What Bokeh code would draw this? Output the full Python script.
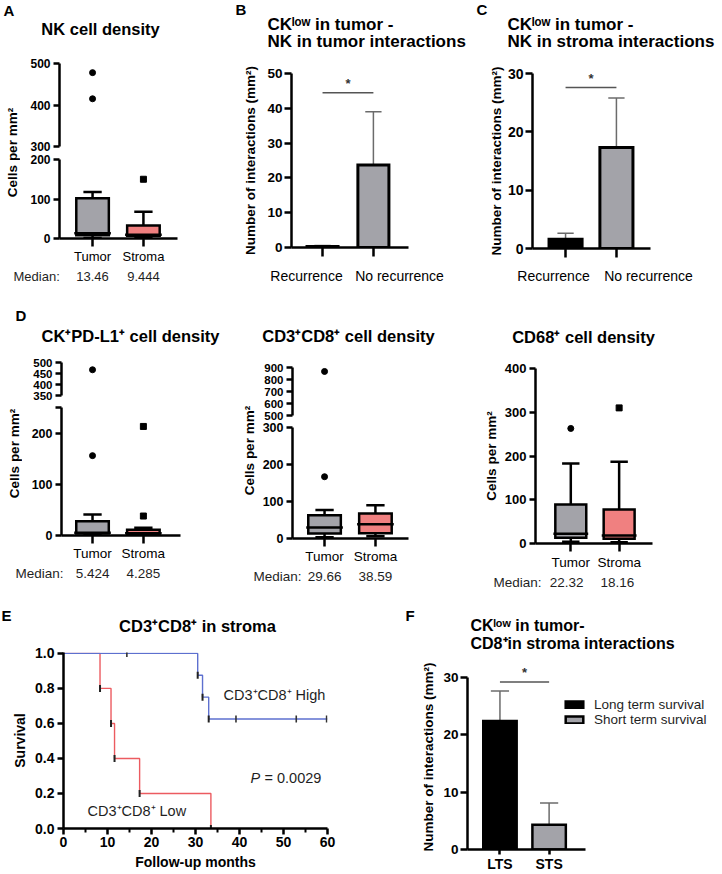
import math
from bokeh.plotting import figure
from bokeh.models import (Range1d, Label, FixedTicker, LinearAxis, Legend, LegendItem,
                          NumeralTickFormatter)
from bokeh.layouts import row, column
from bokeh.embed import file_html
from bokeh.resources import INLINE

FONT = "Liberation Sans"
GRAY = "#a3a3a9"
PINK = "#f08080"
ERRC = "#6b6b6b"
RED = "#ec5b60"
BLUE = "#5d70cf"
TXT = "#1f1f1f"

# ---------------- data ----------------
box_groups = ["Tumor", "Stroma"]

# A: NK cell density (box: low whisker, Q1, median, Q3, high whisker)
nk_lo = [1, 2]
nk_q1 = [8, 7]
nk_med = [13.46, 9.444]
nk_q3 = [102, 33]
nk_hi = [118, 68]
nk_out_tumor = [478, 415]
nk_out_stroma = [150]

# B: CKlow in tumor - NK in tumor interactions
rec_groups = ["Recurrence", "No recurrence"]
b_mean = [0.3, 23.7]
b_sd = [0.3, 15.3]
b_sig = 44.5

# C: CKlow in tumor - NK in stroma interactions
c_mean = [1.6, 17.3]
c_sd = [1.0, 8.5]
c_sig = 27.6

# D1: CK+PD-L1+ cell density
pd_lo = [1, 1]
pd_q1 = [4, 3]
pd_med = [5.424, 4.285]
pd_q3 = [28, 11]
pd_hi = [41, 15]
pd_out_tumor = [156, 467]
pd_out_stroma = [38, 213]

# D2: CD3+CD8+ cell density
cd8_lo = [3.5, 6]
cd8_q1 = [13.5, 14]
cd8_med = [29.66, 38.59]
cd8_q3 = [63, 67.5]
cd8_hi = [77, 90]
cd8_out_tumor = [167, 867]
cd8_out_stroma = []

# D3: CD68+ cell density
cd68_lo = [4, 3]
cd68_q1 = [13, 11]
cd68_med = [22.32, 18.16]
cd68_q3 = [89, 78]
cd68_hi = [183, 187]
cd68_out_tumor = [263]
cd68_out_stroma = [310]

# E: Kaplan-Meier, CD3+CD8+ in stroma
low_t = [0, 8.3, 10.8, 11.6, 17.3, 33.5]
low_s = [1.0, 0.8, 0.6, 0.4, 0.2, 0.0]
high_t = [0, 30.5, 31.6, 33.0, 60.0]
high_s = [1.0, 0.875, 0.75, 0.625, 0.625]
high_cens_t = [14.4, 39.2, 52.9, 59.8]
high_cens_s = [1.0, 0.625, 0.625, 0.625]
e_xticks = [0, 10, 20, 30, 40, 50, 60]
e_xminor = [5, 15, 25, 35, 45, 55]
e_yticks = [0.0, 0.2, 0.4, 0.6, 0.8, 1.0]

# F: CKlow in tumor - CD8+ in stroma interactions
surv_groups = ["LTS", "STS"]
surv_legend = ["Long term survival", "Short term survival"]
f_mean = [22.4, 4.3]
f_sd = [5.2, 3.8]
f_sig = 29.2

pos = [i + 1 for i in range(len(box_groups))]
ROT = math.pi / 2
YLAB = "Number of interactions (mm²)"


# ---------------- helpers ----------------
def mk(w, h, bl, br, bt, bb, xr, yr):
    p = figure(width=w, height=h, x_range=xr, y_range=yr, output_backend="svg",
               toolbar_location=None, tools="", x_axis_location=None, y_axis_location=None,
               min_border_left=bl, min_border_right=br, min_border_top=bt,
               min_border_bottom=bb)
    p.outline_line_color = None
    p.background_fill_color = "white"
    p.border_fill_color = "white"
    p.grid.visible = False
    try:
        p.frame_align = False
    except Exception:
        pass
    return p, (bl, bt, h - bt - bb)


def strip(w, h, xr=None):
    return mk(w, h, 0, 0, 0, 0, xr if xr is not None else Range1d(0, w), Range1d(0, h))


def ext(xr, fw, left_px, right_px):
    ppu = fw / (xr.end - xr.start)
    return Range1d(xr.start - left_px / ppu, xr.end + right_px / ppu)


def cats(names):
    d = {}
    for x, n in zip(pos, names):
        d[x] = n
        d[str(x)] = n
    return d


def add_axis(p, side, ticks, size, tick_out=6, standoff=3, overrides=None,
             style="bold", minor=None, fmt=None, lw=2.5, bounds=None,
             label=None, label_size=13.5, label_standoff=5):
    ax = LinearAxis(ticker=FixedTicker(ticks=ticks, minor_ticks=minor or []))
    ax.axis_line_width = lw
    ax.axis_line_color = "black"
    ax.major_tick_line_width = lw
    ax.major_tick_line_color = "black"
    ax.major_tick_out = tick_out
    ax.major_tick_in = 0
    if minor:
        ax.minor_tick_line_width = 2
        ax.minor_tick_line_color = "black"
        ax.minor_tick_out = 4
        ax.minor_tick_in = 0
    else:
        ax.minor_tick_line_color = None
    ax.major_label_text_font = FONT
    ax.major_label_text_font_size = f"{size}px"
    ax.major_label_text_font_style = style
    ax.major_label_text_color = "black"
    ax.major_label_standoff = standoff
    if overrides:
        ax.major_label_overrides = overrides
    if fmt is not None:
        ax.formatter = fmt
    if bounds is not None:
        ax.bounds = bounds
    if label:
        ax.axis_label = label
        ax.axis_label_text_font = FONT
        ax.axis_label_text_font_size = f"{label_size}px"
        ax.axis_label_text_font_style = "bold"
        ax.axis_label_text_color = "black"
        ax.axis_label_standoff = label_standoff
    p.add_layout(ax, side)
    return ax


def put(p, g, s, cx, cy, size, style="normal", align="center", angle=0.0,
        color="black", xdata=None):
    bl, bt, fh = g
    kw = dict(text=s, text_font=FONT, text_font_size=f"{size}px", text_font_style=style,
              text_color=color, text_align=align, text_baseline="middle", angle=angle)
    ys = bt + fh - cy
    if xdata is None:
        p.add_layout(Label(x=cx - bl, y=ys, x_units="screen", y_units="screen", **kw))
    else:
        p.add_layout(Label(x=xdata, y=ys, x_units="data", y_units="screen", **kw))


def inr(vals, yr):
    return [v for v in vals if yr.start <= v <= yr.end]


def draw_box(p, lo, q1, med, q3, hi, out_t, out_s, fills, boxes=True,
             boxw=0.64, capw=0.36, medw=0.72):
    lw = 2.5
    if boxes:
        p.segment(x0=pos, y0=q3, x1=pos, y1=hi, line_color="black", line_width=lw)
        p.segment(x0=pos, y0=q1, x1=pos, y1=lo, line_color="black", line_width=lw)
        p.segment(x0=[x - capw / 2 for x in pos], y0=hi, x1=[x + capw / 2 for x in pos],
                  y1=hi, line_color="black", line_width=lw)
        p.segment(x0=[x - capw / 2 for x in pos], y0=lo, x1=[x + capw / 2 for x in pos],
                  y1=lo, line_color="black", line_width=lw)
        p.vbar(x=pos, bottom=q1, top=q3, width=boxw, fill_color=fills, line_color="black",
               line_width=lw, line_join="miter")
        p.segment(x0=[x - medw / 2 for x in pos], y0=med, x1=[x + medw / 2 for x in pos],
                  y1=med, line_color="black", line_width=lw)
    ot = inr(out_t, p.y_range)
    os_ = inr(out_s, p.y_range)
    p.scatter(x=[pos[0]] * len(ot), y=ot, marker="circle", size=6, color="black")
    p.scatter(x=[pos[1]] * len(os_), y=os_, marker="square", size=6, color="black")


def err_bars(p, mean, sd, capw):
    tops = [m + s for m, s in zip(mean, sd)]
    p.segment(x0=pos, y0=mean, x1=pos, y1=tops, line_color=ERRC, line_width=1.5)
    p.segment(x0=[x - capw / 2 for x in pos], y0=tops, x1=[x + capw / 2 for x in pos],
              y1=tops, line_color=ERRC, line_width=1.5)


def sig(p, yv):
    p.segment(x0=[pos[0]], y0=[yv], x1=[pos[1]], y1=[yv], line_color="#555555",
              line_width=1.5)
    p.add_layout(Label(x=(pos[0] + pos[1]) / 2, y=yv, x_units="data", y_units="data",
                       y_offset=2, text="*", text_align="center", text_baseline="bottom",
                       text_font=FONT, text_font_size="13px", text_font_style="bold",
                       text_color="#333333"))


def medians(pm, gm, vals, cx, cy, size):
    put(pm, gm, "Median:", cx, cy, size, align="left", color=TXT)
    for x, v in zip(pos, vals):
        put(pm, gm, f"{v:g}", None, cy, size, color=TXT, xdata=x)


def box_xaxis(p, size, standoff=2):
    add_axis(p, "below", pos, size, tick_out=8, standoff=standoff,
             overrides=cats(box_groups), style="normal")


# ================= Row 1 (height 296) =================
# ---------------- Panel A (w 235) ----------------
A_t, gAt_ = strip(235, 48)
put(A_t, gAt_, "A", 3, 10, 15, "bold", align="left")
put(A_t, gAt_, "NK cell density", 100, 28, 16.5, "bold")
A_l, gAl = strip(20, 218)
put(A_l, gAl, "Cells per mm²", 12, 104, 13.5, "bold", angle=ROT)
xrA = Range1d(0.35, 2.67)
A_top, _ = mk(215, 105, 39, 58, 15, 7, xrA, Range1d(300, 500))
A_bot, _ = mk(215, 113, 39, 58, 6, 27, xrA, Range1d(0, 200))
add_axis(A_top, "left", [300, 400, 500], 12)
add_axis(A_bot, "left", [0, 100, 200], 12)
box_xaxis(A_bot, 13)
draw_box(A_top, nk_lo, nk_q1, nk_med, nk_q3, nk_hi, nk_out_tumor, nk_out_stroma,
         [GRAY, PINK], boxes=False)
draw_box(A_bot, nk_lo, nk_q1, nk_med, nk_q3, nk_hi, nk_out_tumor, nk_out_stroma,
         [GRAY, PINK])
A_m, gAm = strip(235, 30, ext(xrA, 118, 59, 58))
medians(A_m, gAm, nk_med, 13, 10, 13)
A = column(A_t, row(A_l, column(A_top, A_bot)), A_m)

# ---------------- Panel B (w 235) ----------------
B_t, gBt = strip(235, 50)
put(B_t, gBt, "B", 0, 9, 15, "bold", align="left")
put(B_t, gBt, "CKˡᵒʷ in tumor -", 32, 24, 17, "bold", align="left")
put(B_t, gBt, "NK in tumor interactions", 32, 41, 17, "bold", align="left")
B_p, gBp = mk(235, 216, 56, 62, 23, 19, Range1d(0.39, 2.69), Range1d(0, 50))
add_axis(B_p, "left", [0, 10, 20, 30, 40, 50], 13.5, tick_out=7, standoff=2,
         label=YLAB, label_size=13.5, label_standoff=6)
add_axis(B_p, "below", pos, 1, tick_out=9, standoff=0, overrides=cats(["", ""]))
err_bars(B_p, b_mean, b_sd, 0.32)
B_p.vbar(x=pos, top=b_mean, width=0.61, fill_color=[GRAY, GRAY], line_color="black",
         line_width=3, line_join="miter")
sig(B_p, b_sig)
B_b, gBb = strip(235, 30)
put(B_b, gBb, rec_groups[0], 71, 9, 14)
put(B_b, gBb, rec_groups[1], 164, 9, 14)
B = column(row(B_t), row(B_p), row(B_b))

# ---------------- Panel C (w 252) ----------------
C_t, gCt = strip(252, 50)
put(C_t, gCt, "C", 6, 9, 15, "bold", align="left")
put(C_t, gCt, "CKˡᵒʷ in tumor -", 37, 24, 17, "bold", align="left")
put(C_t, gCt, "NK in stroma interactions", 37, 41, 17, "bold", align="left")
C_p, gCp = mk(252, 216, 62, 72, 23, 18, Range1d(0.35, 2.67), Range1d(0, 30))
add_axis(C_p, "left", [0, 10, 20, 30], 14, tick_out=7, standoff=2,
         label=YLAB, label_size=13.5, label_standoff=1)
add_axis(C_p, "below", pos, 1, tick_out=9, standoff=0, overrides=cats(["", ""]))
err_bars(C_p, c_mean, c_sd, 0.32)
C_p.vbar(x=pos, top=c_mean, width=0.65, fill_color=["black", GRAY], line_color="black",
         line_width=3, line_join="miter")
sig(C_p, c_sig)
C_b, gCb = strip(252, 30)
put(C_b, gCb, rec_groups[0], 83, 9, 14)
put(C_b, gCb, rec_groups[1], 178, 9, 14)
C = column(row(C_t), row(C_p), row(C_b))

# ================= Row 2 (height 302) =================
# ---------------- Panel D1 (w 240) ----------------
D1_t, gD1t = strip(240, 50)
put(D1_t, gD1t, "D", 15, 19, 15, "bold", align="left")
put(D1_t, gD1t, "CK⁺PD-L1⁺ cell density", 130, 39, 16.5, "bold")
D1_l, gD1l = strip(22, 217)
put(D1_l, gD1l, "Cells per mm²", 14, 107, 13.5, "bold", angle=ROT)
xrD1 = Range1d(0.39, 2.73)
D1_top, _ = mk(218, 55, 39, 60, 16, 6, xrD1, Range1d(350, 500))
D1_bot, _ = mk(218, 162, 39, 60, 6, 26, xrD1, Range1d(0, 250))
add_axis(D1_top, "left", [350, 400, 450, 500], 11.5)
add_axis(D1_bot, "left", [0, 100, 200, 250], 12.5, overrides={250: "", "250": ""})
box_xaxis(D1_bot, 13.5)
draw_box(D1_top, pd_lo, pd_q1, pd_med, pd_q3, pd_hi, pd_out_tumor, pd_out_stroma,
         [GRAY, PINK], boxes=False)
draw_box(D1_bot, pd_lo, pd_q1, pd_med, pd_q3, pd_hi, pd_out_tumor, pd_out_stroma,
         [GRAY, PINK])
D1_m, gD1m = strip(240, 35, ext(xrD1, 119, 61, 60))
medians(D1_m, gD1m, pd_med, 15, 10, 13.5)
D1 = column(row(D1_t), row(D1_l, column(D1_top, D1_bot)), row(D1_m))

# ---------------- Panel D2 (w 240) ----------------
D2_t, gD2t = strip(240, 50)
put(D2_t, gD2t, "CD3⁺CD8⁺ cell density", 108, 39, 16.5, "bold")
D2_l, gD2l = strip(18, 220)
put(D2_l, gD2l, "Cells per mm²", 9, 104, 13.5, "bold", angle=ROT)
xrD2 = Range1d(0.37, 2.65)
D2_top, _ = mk(222, 75, 34, 72, 21, 6, xrD2, Range1d(500, 900))
D2_bot, _ = mk(222, 145, 34, 72, 6, 27, xrD2, Range1d(0, 300))
add_axis(D2_top, "left", [500, 600, 700, 800, 900], 11.5)
add_axis(D2_bot, "left", [0, 100, 200, 300], 12.5)
box_xaxis(D2_bot, 13.5)
draw_box(D2_top, cd8_lo, cd8_q1, cd8_med, cd8_q3, cd8_hi, cd8_out_tumor, cd8_out_stroma,
         [GRAY, PINK], boxes=False)
draw_box(D2_bot, cd8_lo, cd8_q1, cd8_med, cd8_q3, cd8_hi, cd8_out_tumor, cd8_out_stroma,
         [GRAY, PINK])
D2_m, gD2m = strip(240, 32, ext(xrD2, 116, 52, 72))
medians(D2_m, gD2m, cd8_med, 13, 10, 13.5)
D2 = column(row(D2_t), row(D2_l, column(D2_top, D2_bot)), row(D2_m))

# ---------------- Panel D3 (w 242) ----------------
D3_t, gD3t = strip(242, 50)
put(D3_t, gD3t, "CD68⁺ cell density", 103, 40, 16.5, "bold")
xrD3 = Range1d(0.27, 2.69)
D3_p, _ = mk(242, 226, 49, 70, 22, 29, xrD3, Range1d(0, 400))
add_axis(D3_p, "left", [0, 100, 200, 300, 400], 13, label="Cells per mm²",
         label_size=13.5, label_standoff=3)
box_xaxis(D3_p, 13.5, standoff=3)
draw_box(D3_p, cd68_lo, cd68_q1, cd68_med, cd68_q3, cd68_hi, cd68_out_tumor,
         cd68_out_stroma, [GRAY, PINK])
D3_m, gD3m = strip(242, 26, ext(xrD3, 123, 49, 70))
medians(D3_m, gD3m, cd68_med, 13, 10, 13.5)
D3 = column(row(D3_t), row(D3_p), row(D3_m))

# ================= Row 3 (height 276) =================
# ---------------- Panel E (w 405) ----------------
E_t, gEt = strip(405, 40)
put(E_t, gEt, "E", 1, 17, 15, "bold", align="left")
put(E_t, gEt, "CD3⁺CD8⁺ in stroma", 197, 27, 16.5, "bold")
E_p, gEp = mk(405, 236, 63, 78, 14, 46, Range1d(0, 60), Range1d(0, 1.005))
add_axis(E_p, "left", e_yticks, 14, tick_out=6, standoff=3,
         fmt=NumeralTickFormatter(format="0.0"), label="Survival", label_size=14,
         label_standoff=4)
add_axis(E_p, "below", e_xticks, 14, tick_out=6, standoff=2, minor=e_xminor,
         label="Follow-up months", label_size=14, label_standoff=4)
E_p.step(x=low_t, y=low_s, mode="after", line_color=RED, line_width=1.4)
E_p.step(x=high_t, y=high_s, mode="after", line_color=BLUE, line_width=1.4)
low_ev_t = [t for i, t in enumerate(low_t) if i > 0 and low_s[i] < low_s[i - 1]]
low_ev_s = [s for i, s in enumerate(low_s) if i > 0 and s < low_s[i - 1]]
high_ev_t = [t for i, t in enumerate(high_t) if i > 0 and high_s[i] < high_s[i - 1]]
high_ev_s = [s for i, s in enumerate(high_s) if i > 0 and s < high_s[i - 1]]
E_p.scatter(x=low_ev_t + high_ev_t, y=low_ev_s + high_ev_s, marker="dash", angle=ROT,
            size=7, line_color="#222222", line_width=2)
E_p.scatter(x=high_cens_t, y=high_cens_s, marker="dash", angle=ROT, size=7,
            line_color="#333333", line_width=1.6)
put(E_p, gEp, "CD3⁺CD8⁺ High", 223, 56, 14.5, align="left", color=TXT)
put(E_p, gEp, "CD3⁺CD8⁺ Low", 87, 172, 14.5, align="left", color=TXT)
put(E_p, gEp, "P", 250, 139, 14.5, "italic", align="left", color=TXT)
put(E_p, gEp, "= 0.0029", 264, 139, 14.5, align="left", color=TXT)
E = column(row(E_t), row(E_p))

# ---------------- Panel F (w 317) ----------------
F_t, gFt = strip(317, 60)
put(F_t, gFt, "F", 0, 17, 15, "bold", align="left")
put(F_t, gFt, "CKˡᵒʷ in tumor-", 65, 27, 16, "bold", align="left")
put(F_t, gFt, "CD8⁺in stroma interactions", 65, 45, 16, "bold", align="left")
fx0, fx1 = 0.34, 2.74
fy1 = 30
F_fw, F_top30, F_bot = 251, 19, 194
F_xr = Range1d(fx0, fx0 + F_fw * (fx1 - fx0) / 118)
F_yr = Range1d(0, fy1 + (F_top30 - 6) * fy1 / (F_bot - F_top30))
F_p, gFp = mk(317, 216, 62, 4, 6, 216 - F_bot, F_xr, F_yr)
add_axis(F_p, "left", [0, 10, 20, 30], 13.5, tick_out=7, standoff=2, bounds=(0, fy1),
         label=YLAB, label_size=13.5, label_standoff=4)
add_axis(F_p, "below", pos, 14, tick_out=5, standoff=1, overrides=cats(surv_groups),
         bounds=(fx0, fx1))
err_bars(F_p, f_mean, f_sd, 0.37)
fb = F_p.vbar(x=pos, top=f_mean, width=0.68, fill_color=["black", GRAY], line_color="black",
              line_width=2.5, line_join="miter")
sig(F_p, f_sig)
leg = Legend(items=[LegendItem(label=surv_legend[i], renderers=[fb], index=i)
                    for i in range(len(surv_legend))])
leg.location = (96, F_bot - 72)
leg.border_line_color = None
leg.background_fill_alpha = 0
leg.padding = 0
leg.margin = 0
leg.spacing = 0
leg.glyph_width = 22
leg.glyph_height = 9
leg.label_standoff = 9
leg.label_height = 14
leg.label_text_font = FONT
leg.label_text_font_size = "13.5px"
leg.label_text_color = TXT
F_p.add_layout(leg)
F = column(row(F_t), row(F_p))

# ---------------- layout ----------------
layout = column(row(A, B, C), row(D1, D2, D3), row(E, F))

open("out.html", "w").write(file_html(layout, INLINE))
